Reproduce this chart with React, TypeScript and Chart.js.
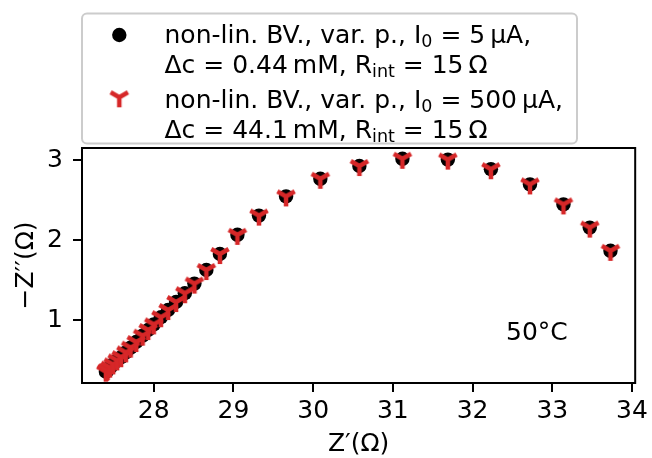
import { useEffect, useRef } from "react";
import { Chart, registerables } from "chart.js";

Chart.register(...registerables);

// Z' (Ohm) and -Z'' (Ohm), I0 = 5 µA
const zReal5uA = [27.40, 27.41, 27.42, 27.45, 27.49, 27.54, 27.59, 27.65, 27.71, 27.78, 27.86, 27.93, 28.00, 28.09, 28.18, 28.28, 28.39, 28.51, 28.66, 28.83, 29.05, 29.32, 29.66, 30.09, 30.58, 31.12, 31.69, 32.23, 32.72, 33.14, 33.47, 33.73];
const negZImag5uA = [0.36, 0.37, 0.38, 0.41, 0.45, 0.50, 0.54, 0.60, 0.66, 0.73, 0.81, 0.88, 0.95, 1.04, 1.13, 1.23, 1.34, 1.46, 1.63, 1.83, 2.07, 2.31, 2.55, 2.77, 2.93, 3.02, 3.01, 2.89, 2.70, 2.45, 2.16, 1.87];

// I0 = 500 µA
const zReal500uA = [27.40, 27.41, 27.42, 27.45, 27.49, 27.54, 27.59, 27.65, 27.71, 27.78, 27.86, 27.93, 28.00, 28.09, 28.18, 28.28, 28.39, 28.51, 28.66, 28.83, 29.05, 29.32, 29.66, 30.09, 30.58, 31.12, 31.69, 32.23, 32.72, 33.14, 33.47, 33.73];
const negZImag500uA = [0.36, 0.37, 0.38, 0.41, 0.45, 0.50, 0.54, 0.60, 0.66, 0.73, 0.81, 0.88, 0.95, 1.04, 1.13, 1.23, 1.34, 1.46, 1.63, 1.83, 2.07, 2.31, 2.55, 2.77, 2.93, 3.02, 3.01, 2.89, 2.70, 2.45, 2.16, 1.87];

const xRange = [27.10, 34.04];
const yRange = [0.218, 3.155];
const tickStep = 1;

const xTitle = "Z\u2032(\u03A9)";
const yTitle = "\u2212Z\u2032\u2032(\u03A9)";
const annotation = "50\u00B0C";

type Run = { t: string; sub?: boolean };
const legend5uA: Run[][] = [
  [{ t: "non-lin. BV., var. p., " }, { t: "I" }, { t: "0", sub: true }, { t: " = 5\u2009\u00B5A," }],
  [{ t: "\u0394c = 0.44\u2009mM, " }, { t: "R" }, { t: "int", sub: true }, { t: " = 15\u2009\u03A9" }],
];
const legend500uA: Run[][] = [
  [{ t: "non-lin. BV., var. p., " }, { t: "I" }, { t: "0", sub: true }, { t: " = 500\u2009\u00B5A," }],
  [{ t: "\u0394c = 44.1\u2009mM, " }, { t: "R" }, { t: "int", sub: true }, { t: " = 15\u2009\u03A9" }],
];

const FONT = "'DejaVu Sans', sans-serif";
const FS = 25;
const RED = "#d62728";

function makeTri(color: string): HTMLCanvasElement {
  const c = document.createElement("canvas");
  c.width = 28;
  c.height = 28;
  const g = c.getContext("2d")!;
  const cx = 14, cy = 14, L = 10;
  g.strokeStyle = color;
  g.lineWidth = 4.5;
  g.lineCap = "butt";
  g.beginPath();
  g.moveTo(cx, cy); g.lineTo(cx, cy + L);
  g.moveTo(cx, cy); g.lineTo(cx + 0.866 * L, cy - 0.5 * L);
  g.moveTo(cx, cy); g.lineTo(cx - 0.866 * L, cy - 0.5 * L);
  g.stroke();
  return c;
}

function drawRuns(ctx: CanvasRenderingContext2D, runs: Run[], x: number, y: number) {
  let cx = x;
  for (const r of runs) {
    if (r.sub) {
      ctx.font = `${FS * 0.7}px ${FONT}`;
      ctx.fillText(r.t, cx, y + 4);
    } else {
      ctx.font = `${FS}px ${FONT}`;
      ctx.fillText(r.t, cx, y);
    }
    cx += ctx.measureText(r.t).width;
  }
}

export default function App() {
  const ref = useRef<HTMLCanvasElement | null>(null);

  useEffect(() => {
    document.body.style.margin = "0";
    const tri = makeTri(RED);

    const overlay = {
      id: "overlay",
      afterDraw(chart: any) {
        const ctx: CanvasRenderingContext2D = chart.ctx;
        const a = chart.chartArea;
        ctx.save();
        // frame
        ctx.strokeStyle = "#000";
        ctx.lineWidth = 2;
        ctx.strokeRect(a.left, a.top, a.right - a.left, a.bottom - a.top);

        ctx.fillStyle = "#000";
        ctx.textBaseline = "alphabetic";
        // x title
        ctx.font = `${FS}px ${FONT}`;
        ctx.textAlign = "center";
        ctx.fillText(xTitle, (a.left + a.right) / 2, 451);
        // y title
        ctx.save();
        ctx.translate(33, (a.top + a.bottom) / 2);
        ctx.rotate(-Math.PI / 2);
        ctx.fillText(yTitle, 0, 0);
        ctx.restore();
        // annotation
        ctx.textAlign = "left";
        ctx.fillText(annotation, 506, 339.5);

        // legend
        ctx.beginPath();
        (ctx as any).roundRect(82, 13.5, 495, 130, 5);
        ctx.fillStyle = "rgba(255,255,255,0.8)";
        ctx.fill();
        ctx.strokeStyle = "#cccccc";
        ctx.lineWidth = 2;
        ctx.stroke();

        ctx.fillStyle = "#000";
        ctx.beginPath();
        ctx.arc(119.3, 35, 7.2, 0, Math.PI * 2);
        ctx.fill();
        ctx.drawImage(tri, 119.3 - 14, 97.3 - 14);

        ctx.textAlign = "left";
        drawRuns(ctx, legend5uA[0], 164.5, 43.3);
        drawRuns(ctx, legend5uA[1], 164.5, 73.3);
        drawRuns(ctx, legend500uA[0], 164.5, 108.3);
        drawRuns(ctx, legend500uA[1], 164.5, 138.3);
        ctx.restore();
      },
    };

    const tickFont = { family: FONT, size: FS };
    const chart = new Chart(ref.current!, {
      type: "scatter",
      data: {
        datasets: [
          {
            label: "I0 = 500 µA",
            data: zReal500uA.map((x, i) => ({ x, y: negZImag500uA[i] })),
            pointStyle: tri as any,
            pointRadius: 10,
            order: 0,
          },
          {
            label: "I0 = 5 µA",
            data: zReal5uA.map((x, i) => ({ x, y: negZImag5uA[i] })),
            pointStyle: "circle",
            pointRadius: 7.2,
            backgroundColor: "#000",
            borderWidth: 0,
            order: 1,
          },
        ],
      },
      options: {
        animation: false,
        responsive: false,
        devicePixelRatio: 1,
        layout: { padding: { top: 148, right: 16, left: 0, bottom: 0 } },
        plugins: { legend: { display: false }, tooltip: { enabled: false } },
        scales: {
          x: {
            type: "linear",
            min: xRange[0],
            max: xRange[1],
            afterFit: (s: any) => { s.height = 75; },
            border: { display: false },
            grid: { drawOnChartArea: false, drawTicks: true, tickLength: 9, color: "#000", lineWidth: 2 },
            ticks: { stepSize: tickStep, includeBounds: false, autoSkip: false, maxRotation: 0, color: "#000", font: tickFont, padding: 4, callback: (v: any) => String(v) },
          },
          y: {
            type: "linear",
            min: yRange[0],
            max: yRange[1],
            afterFit: (s: any) => { s.width = 82; },
            border: { display: false },
            grid: { drawOnChartArea: false, drawTicks: true, tickLength: 9, color: "#000", lineWidth: 2 },
            ticks: { stepSize: tickStep, includeBounds: false, autoSkip: false, color: "#000", font: tickFont, padding: 10, callback: (v: any) => String(v) },
          },
        },
      },
      plugins: [overlay],
    });
    return () => chart.destroy();
  }, []);

  return (
    <div style={{ width: 652, height: 458 }}>
      <canvas ref={ref} width={652} height={458} style={{ display: "block" }} />
    </div>
  );
}
